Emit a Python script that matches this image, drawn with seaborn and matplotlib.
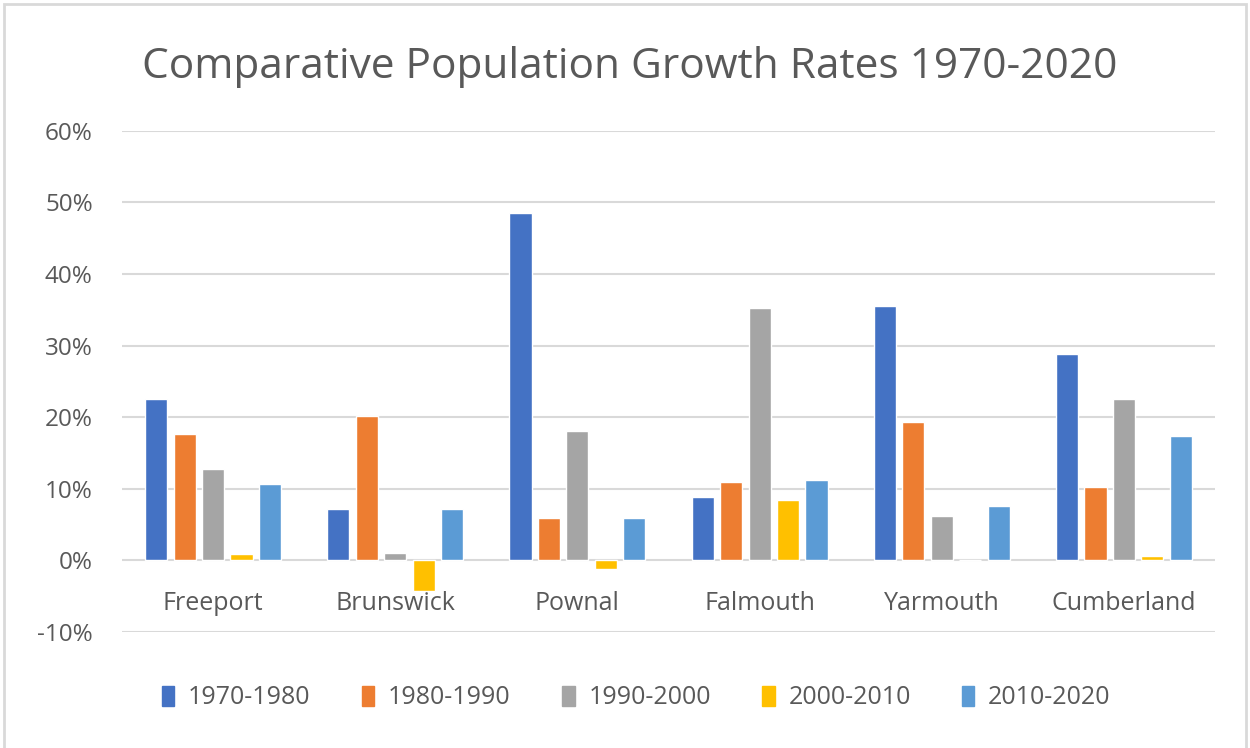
import pandas as pd
import numpy as np
import matplotlib
matplotlib.use("Agg")
import matplotlib.pyplot as plt
import matplotlib.patches as mpatches
from matplotlib.ticker import PercentFormatter
import seaborn as sns

towns   = ["Freeport", "Brunswick", "Pownal", "Falmouth", "Yarmouth", "Cumberland"]
periods = ["1970-1980", "1980-1990", "1990-2000", "2000-2010", "2010-2020"]
g_1970  = [22.5,  7.2, 48.5,  8.8, 35.6, 28.8]
g_1980  = [17.6, 20.2,  6.0, 10.9, 19.3, 10.2]
g_1990  = [12.8,  1.1, 18.1, 35.3,  6.2, 22.5]
g_2000  = [ 0.9, -4.2, -1.2,  8.4,  0.0,  0.6]
g_2010  = [10.7,  7.2,  6.0, 11.2,  7.6, 17.4]
COLORS  = ["#4472C4", "#ED7D31", "#A5A5A5", "#FFC000", "#5B9BD5"]
TXT = "#595959"; GRID = "#D9D9D9"

rows = []
for per, vals in zip(periods, [g_1970, g_1980, g_1990, g_2000, g_2010]):
    for t, v in zip(towns, vals):
        rows.append({"town": t, "period": per, "growth": v})
df = pd.DataFrame(rows)

sns.set_style("white")
plt.rcParams["font.family"] = ["Open Sans", "DejaVu Sans"]
plt.rcParams["axes.unicode_minus"] = False

fig = plt.figure(figsize=(12.5, 7.48), dpi=100, facecolor="white")
ax = fig.add_axes([0.0976, 0.155, 0.8744, 0.670])

sns.barplot(data=df, x="town", y="growth", hue="period", order=towns, hue_order=periods,
            palette=COLORS, width=0.78, gap=0.22, errorbar=None, ax=ax, legend=False,
            saturation=1)

ax.set_ylim(-10, 60)
ax.set_xlim(-0.5, 5.5)
ax.set_yticks(range(-10, 61, 10))
ax.yaxis.set_major_formatter(PercentFormatter(decimals=0))
ax.grid(axis="y", color=GRID, linewidth=1.5)
ax.set_axisbelow(True)
for sp in ax.spines.values(): sp.set_visible(False)
ax.spines["bottom"].set_position(("data", 0))
ax.set_xlabel(""); ax.set_ylabel("")
ax.tick_params(axis="y", length=0, pad=21, labelsize=17.5, labelcolor=TXT)
ax.tick_params(axis="x", length=0, pad=22, labelsize=18, labelcolor=TXT)

fig.text(0.504, 0.8957, "Comparative Population Growth Rates 1970-2020", ha="center",
         va="baseline", fontsize=30.5, color=TXT)

handles = [mpatches.Patch(color=c, label=p) for c, p in zip(COLORS, periods)]
fig.legend(handles=handles, loc="center", bbox_to_anchor=(0.509, 0.067), ncol=5,
           frameon=False, fontsize=18, labelcolor=TXT, handlelength=0.5,
           handleheight=0.85, handletextpad=0.55, columnspacing=2.05)

fig.add_artist(mpatches.Rectangle((0.003, -0.01), 0.994, 1.005, transform=fig.transFigure,
                                  fill=False, edgecolor=GRID, linewidth=2))

fig.savefig("out.png", dpi=100, facecolor="white")
